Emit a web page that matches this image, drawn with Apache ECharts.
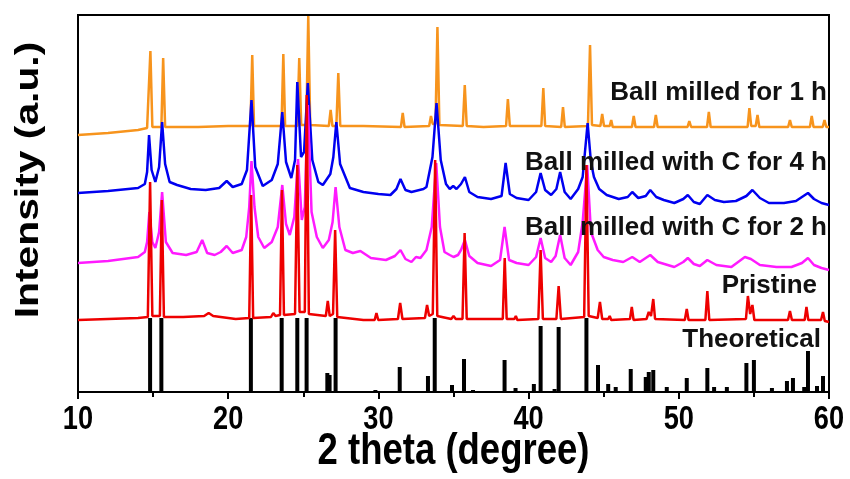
<!DOCTYPE html>
<html>
<head>
<meta charset="utf-8">
<script src="https://cdn.jsdelivr.net/npm/echarts@6/dist/echarts.min.js"></script>
<style>
  html, body { margin: 0; padding: 0; background: #fff; }
  #xrdChart { width: 850px; height: 479px; }
</style>
</head>
<body>
<div id="xrdChart"></div>
<script>
//---------------------------- 数据 --------------------------------------
// [2theta, intensity] - intensity in a.u. (stacked offsets already included)
const milled1h = [
    [10,257],[12,259],[14,262],[14.6,264],[14.7,265],[14.82,341],[14.95,265],[15.55,265],[15.67,334],[15.8,265],
    [18,265],[20,266],[21.48,266],[21.6,337],[21.72,266],[23.55,266],[23.67,338],[23.79,266],[24.6,266],[24.73,334],
    [24.86,267],[25.2,267],[25.33,376],[25.46,267],[26.7,266],[26.82,282],[26.94,266],[27.2,266],[27.33,319],[27.46,266],
    [29,266],[31.5,265],[31.62,279],[31.74,265],[33.38,266],[33.5,276],[33.62,268],[33.8,268],[33.93,365],[34.06,267],
    [35.62,266],[35.75,307],[35.88,266],[37,265],[38.5,266],[38.62,293],[38.75,266],[40.85,266],[40.98,304],[41.1,266],
    [42.17,265],[42.29,285],[42.41,265],[43.95,266],[44.09,347],[44.22,267],[44.78,266],[44.9,278],[45.02,266],[45.4,266],
    [45.5,272],[45.6,265],[46.88,265],[47.0,276],[47.12,265],[48.35,265],[48.47,277],[48.59,265],[50.58,265],[50.7,271],
    [50.82,265],[51.88,265],[52.0,280],[52.12,265],[54.58,265],[54.7,284],[54.82,266],[55.12,266],[55.24,277],[55.36,265],
    [57.28,265],[57.4,272],[57.52,265],[58.73,265],[58.85,276],[58.97,265],[59.58,265],[59.7,272],[59.82,265],[60,265]
];
const milledC4h = [
    [10,199],[12,201],[14,204],[14.45,208],[14.6,220],[14.73,257],[14.9,222],[15.15,210],[15.4,225],[15.6,270],
    [15.8,228],[16.1,210],[16.6,207],[17.5,203],[18.5,202],[19.4,204],[19.9,211],[20.3,205],[20.9,208],[21.25,222],
    [21.55,292],[21.8,225],[22.3,206],[22.9,212],[23.3,228],[23.6,280],[23.85,230],[24.2,214],[24.45,232],[24.6,310],
    [24.85,235],[25.05,240],[25.3,309],[25.6,232],[26.0,210],[26.3,207],[26.8,218],[27.0,235],[27.2,270],[27.45,228],
    [28.1,204],[29,200],[30,198],[30.8,197],[31.2,203],[31.47,213],[31.8,202],[32.2,200],[33.0,203],[33.2,205],
    [33.6,235],[33.87,289],[34.15,232],[34.5,208],[34.75,203],[34.98,206],[35.2,203],[35.5,208],[35.76,215],[36.05,200],
    [36.6,195],[37.5,193],[38.2,196],[38.47,229],[38.75,198],[39.2,194],[40.0,192],[40.5,200],[40.8,219],[41.1,202],
    [41.5,197],[41.85,203],[42.1,220],[42.4,200],[42.8,193],[43.3,203],[43.6,215],[43.93,269],[44.15,230],[44.35,215],
    [44.7,203],[45.2,197],[46.0,193],[46.6,195],[46.9,200],[47.3,194],[47.8,196],[48.1,202],[48.5,195],[49.0,192],
    [49.7,189],[50.3,193],[50.6,197],[51.0,190],[51.4,188],[51.9,197],[52.4,192],[53.0,190],[53.8,191],[54.5,196],
    [54.9,202],[55.4,194],[56.0,189],[57.0,189],[57.8,191],[58.6,199],[59.0,193],[59.5,189],[60,187]
];
const milledC2h = [
    [10,129],[12,131],[14,135],[14.45,140],[14.6,150],[14.75,180],[14.95,150],[15.15,144],[15.4,160],[15.6,200],
    [15.85,150],[16.3,139],[17.2,137],[17.9,140],[18.27,152],[18.6,139],[19.1,137],[19.5,140],[19.9,146],[20.3,139],
    [20.9,142],[21.2,155],[21.4,185],[21.55,231],[21.75,185],[22.0,155],[22.4,144],[22.9,150],[23.3,165],[23.6,207],
    [23.85,168],[24.1,157],[24.4,175],[24.65,233],[24.9,172],[25.1,185],[25.3,287],[25.55,180],[25.9,155],[26.3,144],
    [26.7,152],[26.95,170],[27.15,205],[27.4,165],[27.8,142],[28.3,139],[28.8,141],[29.5,134],[30.5,132],[31.1,136],
    [31.47,142],[31.8,133],[32.2,130],[32.5,135],[32.8,134],[33.2,142],[33.55,165],[33.85,229],[34.1,165],[34.4,140],
    [34.75,137],[35.0,135],[35.3,137],[35.5,142],[35.76,152],[36.05,136],[36.6,129],[37.5,126],[38.1,132],[38.4,165],
    [38.7,132],[39.2,129],[40.0,127],[40.5,135],[40.8,154],[41.1,134],[41.5,130],[41.8,136],[42.1,157],[42.4,134],
    [42.8,127],[43.3,140],[43.6,170],[43.9,227],[44.15,160],[44.6,142],[45.0,135],[45.6,132],[46.3,130],[46.9,135],
    [47.4,130],[48.1,137],[48.6,130],[49.7,125],[50.3,130],[50.6,134],[51.0,128],[51.4,126],[51.9,132],[52.5,127],
    [53.5,125],[54.4,135],[54.8,133],[55.4,127],[56.5,125],[57.5,125],[58.2,129],[58.6,134],[59.0,127],[59.5,124],[60,122]
];
const pristine = [
    [10,72],[12,73],[14,74],[14.65,75],[14.8,210],[14.95,76],[15.45,76],[15.58,192],[15.72,75],[17,75],
    [18.4,76],[18.7,79],[19.0,76],[20.5,73],[21.4,74],[21.53,197],[21.66,74],[22.85,75],[23.0,79],[23.15,76],
    [23.45,77],[23.58,202],[23.71,77],[24.45,78],[24.6,227],[24.75,80],[25.1,80],[25.23,297],[25.37,78],[26.5,76],
    [26.63,91],[26.76,76],[26.98,78],[27.12,162],[27.26,75],[29.0,72],[29.75,72],[29.87,79],[29.99,72],[31.3,73],
    [31.45,89],[31.6,73],[33.1,74],[33.24,87],[33.38,76],[33.62,78],[33.78,232],[33.92,76],[34.85,73],[35.0,76],
    [35.15,73],[35.6,73],[35.74,159],[35.88,73],[38.28,73],[38.41,134],[38.54,73],[39.05,73],[39.15,76],[39.25,72],
    [40.65,73],[40.8,142],[40.95,73],[41.85,73],[42.0,106],[42.15,73],[43.7,75],[43.85,227],[44.0,76],[44.6,74],
    [44.75,90],[44.9,73],[45.3,73],[45.4,76],[45.5,72],[46.75,73],[46.87,85],[46.99,72],[47.85,73],[48.0,80],
    [48.15,76],[48.3,93],[48.42,73],[50.4,72],[50.53,83],[50.65,72],[51.77,72],[51.9,101],[52.03,72],[54.47,73],
    [54.6,96],[54.75,78],[54.9,87],[55.03,72],[57.27,72],[57.4,81],[57.53,72],[58.38,72],[58.5,85],[58.62,72],
    [59.47,72],[59.6,80],[59.72,71],[60,70]
];
// 理论衍射峰 (stick pattern)
const theoretical = [
    [14.8,74],[15.55,74],[21.51,74],[23.56,74],[24.6,74],[25.22,74],[26.6,19],[26.75,17],[27.15,74],[29.8,2],
    [31.42,25],[33.3,16],[33.75,74],[34.9,7],[35.7,33],[36.3,2],[38.4,32],[39.13,4],[40.35,8],[40.8,66],
    [41.73,3],[42.0,65],[43.85,74],[44.62,27],[45.3,8],[45.8,5],[46.8,23],[47.8,15],[48.0,20],[48.3,22],
    [49.2,5],[50.53,14],[51.5,1],[51.9,24],[52.35,5],[53.2,5],[54.5,29],[55.0,32],[56.2,4],[57.2,11],
    [57.6,14],[58.35,5],[58.6,41],[59.2,6],[59.6,16]
];
const seriesNames = ['Theoretical', 'Ball milled for 1 h', 'Ball milled with C for 4 h', 'Ball milled with C for 2 h', 'Pristine'];
const xTicks = [10, 20, 30, 40, 50, 60];

//---------------------------- 图表 --------------------------------------
var xrdChart = echarts.init(document.getElementById('xrdChart'));
const fontFam = 'Liberation Sans, Arial, sans-serif';

function traceLabel(text, y, right) {
    return {
        type: 'text',
        right: right,
        top: y,
        style: {
            text: text,
            font: 'bold 26px ' + fontFam,
            fill: '#111'
        },
        z: 50
    };
}

var option = {
    animation: false,
    grid: {
        left: 78,
        right: 21,
        top: 15,
        bottom: 87,
        show: true,
        borderColor: '#000',
        borderWidth: 2,
        containLabel: false,
        outerBoundsMode: 'none'
    },
    xAxis: {
        type: 'value',
        min: xTicks[0],
        max: xTicks[xTicks.length - 1],
        interval: 10,
        axisLine: { lineStyle: { color: '#000', width: 2 } },
        axisTick: { show: true, length: 7, lineStyle: { color: '#000', width: 2 } },
        minorTick: { show: true, splitNumber: 2, length: 5, lineStyle: { color: '#000', width: 2 } },
        axisLabel: { show: false },
        splitLine: { show: false }
    },
    yAxis: {
        type: 'value',
        min: 0,
        max: 377,
        axisLine: { show: false },
        axisTick: { show: false },
        axisLabel: { show: false },
        splitLine: { show: false }
    },
    series: [
        {
            name: seriesNames[0],
            type: 'bar',
            data: theoretical,
            barWidth: 4,
            itemStyle: { color: '#000' },
            z: 1
        },
        {
            name: seriesNames[1],
            type: 'line',
            data: milled1h,
            symbol: 'none',
            lineStyle: { color: '#f7941d', width: 2.5 },
            z: 2
        },
        {
            name: seriesNames[2],
            type: 'line',
            data: milledC4h,
            symbol: 'none',
            lineStyle: { color: '#0000f0', width: 2.5 },
            z: 3
        },
        {
            name: seriesNames[3],
            type: 'line',
            data: milledC2h,
            symbol: 'none',
            lineStyle: { color: '#ff1aff', width: 2.5 },
            z: 4
        },
        {
            name: seriesNames[4],
            type: 'line',
            data: pristine,
            symbol: 'none',
            lineStyle: { color: '#ee0000', width: 2.5 },
            z: 5
        }
    ]
};

xrdChart.setOption(option);

// 坐标轴文字: 用较窄的字形 (scaleX), 位置取自坐标轴本身
var axisY = xrdChart.convertToPixel({ yAxisIndex: 0 }, 0);
var xMid = xrdChart.convertToPixel({ xAxisIndex: 0 }, (xTicks[0] + xTicks[xTicks.length - 1]) / 2);
var tickTexts = xTicks.map(function (v) {
    return {
        type: 'text',
        x: xrdChart.convertToPixel({ xAxisIndex: 0 }, v),
        y: axisY + 28,
        scaleX: 0.8,
        style: {
            text: String(v),
            font: 'bold 34px ' + fontFam,
            fill: '#000',
            align: 'center',
            verticalAlign: 'middle'
        }
    };
});

xrdChart.setOption({
    graphic: tickTexts.concat([
        {
            type: 'text',
            x: xMid,
            y: axisY + 60,
            scaleX: 0.83,
            style: {
                text: '2 theta (degree)',
                font: 'bold 44px ' + fontFam,
                fill: '#000',
                align: 'center',
                verticalAlign: 'middle'
            }
        },
        {
            type: 'text',
            x: 29,
            y: 180,
            rotation: Math.PI / 2,
            scaleX: 1.2,
            style: {
                text: 'Intensity (a.u.)',
                font: 'bold 34px ' + fontFam,
                fill: '#000',
                align: 'center',
                verticalAlign: 'middle'
            }
        },
        traceLabel('Ball milled for 1 h', 80, 23),
        traceLabel('Ball milled with C for 4 h', 150, 23),
        traceLabel('Ball milled with C for 2 h', 215, 23),
        traceLabel('Pristine', 273, 33),
        traceLabel('Theoretical', 327, 29)
    ])
});
</script>
</body>
</html>
